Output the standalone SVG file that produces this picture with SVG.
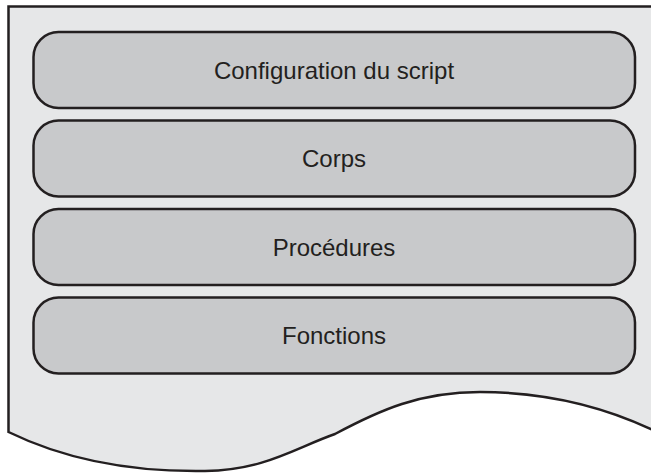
<svg xmlns="http://www.w3.org/2000/svg" width="651" height="475" viewBox="0 0 651 475">
<style>
.doc{fill:#e6e7e8;stroke:#231f20;stroke-width:2.5}
.box{fill:#c8c9cb;stroke:#231f20;stroke-width:2.5}
.lbl{font-family:"Liberation Sans",Arial,sans-serif;font-size:24px;fill:#231f20;text-anchor:middle}
</style>
<rect width="651" height="475" fill="#ffffff"/>
<g id="document">
<path class="doc" d="M653,6.5 L8.5,6.5 L8.5,432 C70,462 140,472 205,471 C265,470 295,448 335,434 C380,410 420,392 480,392 C540,392 600,405 653,430"/>
</g>
<g id="connectors"></g>
<g id="node-config">
<rect class="box" x="33.5" y="32" width="601.5" height="76" rx="25"/>
<text class="lbl" x="334" y="78.5">Configuration du script</text>
</g>
<g id="node-corps">
<rect class="box" x="33.5" y="120.5" width="601.5" height="76" rx="25"/>
<text class="lbl" x="334" y="167">Corps</text>
</g>
<g id="node-procedures">
<rect class="box" x="33.5" y="209" width="601.5" height="76" rx="25"/>
<text class="lbl" x="334" y="255.5">Procédures</text>
</g>
<g id="node-fonctions">
<rect class="box" x="33.5" y="297.5" width="601.5" height="76" rx="25"/>
<text class="lbl" x="334" y="344">Fonctions</text>
</g>
</svg>
